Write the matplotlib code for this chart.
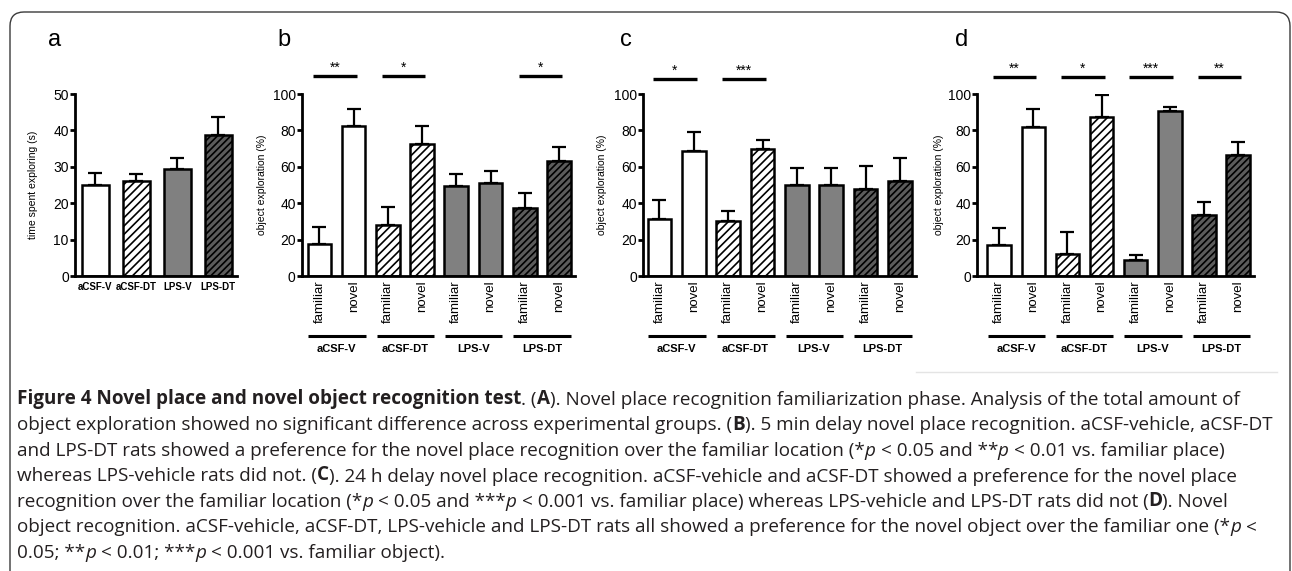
import numpy as np
import matplotlib
matplotlib.use("Agg")
import matplotlib.pyplot as plt
from matplotlib.patches import FancyBboxPatch
from matplotlib.lines import Line2D
from matplotlib.text import Annotation
from matplotlib.transforms import IdentityTransform

plt.rcParams['font.family'] = 'Liberation Sans'
plt.rcParams['hatch.linewidth'] = 1.2

W, H = 1292, 571

groups = ["aCSF-V", "aCSF-DT", "LPS-V", "LPS-DT"]
conditions = ["familiar", "novel"]

# a: familiarization, time spent exploring (s)
a_mean = [25.0, 26.1, 29.4, 38.6]
a_err = [3.3, 1.9, 2.9, 5.2]

# b: 5 min delay novel place (familiar, novel per group)
b_mean = [17.6, 82.4, 28.0, 72.5, 49.4, 51.1, 37.4, 63.2]
b_err = [9.4, 9.4, 9.9, 9.9, 6.6, 6.6, 8.2, 7.8]
b_sig = {0: "**", 1: "*", 3: "*"}

# c: 24 h delay novel place
c_mean = [31.3, 68.9, 30.4, 69.6, 50.2, 50.2, 47.8, 52.2]
c_err = [10.2, 10.2, 5.3, 5.4, 9.1, 9.1, 12.9, 12.6]
c_sig = {0: "*", 1: "***"}

# d: novel object
d_mean = [16.8, 82.0, 12.0, 87.6, 9.0, 90.4, 33.7, 66.3]
d_err = [9.8, 10.0, 12.0, 12.0, 2.7, 2.7, 7.2, 7.1]
d_sig = {0: "**", 1: "*", 2: "***", 3: "**"}

faces = ["white", "white", "#808080", "#5c5c5c"]
hatches = [None, "////", None, "/////"]

fig = plt.figure(figsize=(W / 100, H / 100), dpi=100)


def px_axes(l, t, r, b):
    return fig.add_axes([l / W, 1 - b / H, (r - l) / W, (b - t) / H])


def style_axis(ax, ymax, step, ylabel, lab_px):
    for s in ["top", "right"]:
        ax.spines[s].set_visible(False)
    for s in ["left", "bottom"]:
        ax.spines[s].set_linewidth(2.0)
    ax.set_ylim(0, ymax)
    ax.set_yticks(np.arange(0, ymax + 1, step))
    ax.tick_params(axis="y", direction="out", length=3.5, width=2, labelsize=10, pad=1)
    ax.set_ylabel(ylabel, fontsize=7.5)
    w = ax.get_position().width * W
    ax.yaxis.set_label_coords(-lab_px / w, 0.5)


def bars(ax, x, means, errs, gidx, width):
    for xi, m, e, g in zip(x, means, errs, gidx):
        ax.bar(xi, m, width=width, color=faces[g], edgecolor="black", linewidth=1.8,
               hatch=hatches[g], zorder=2)
    ax.errorbar(x, means, yerr=[np.zeros(len(errs)), errs], fmt="none", ecolor="black",
                elinewidth=1.6, capsize=4.7, capthick=1.6, zorder=1)


# panel a
ax = px_axes(75, 94, 237, 276)
xa = np.arange(4)
bars(ax, xa, a_mean, a_err, range(4), 0.66)
ax.set_xlim(-0.5, 3.46)
style_axis(ax, 50, 10, "time spent exploring (s)", 37)
ax.set_xticks(xa)
ax.set_xticklabels(groups, fontsize=7, fontweight="bold")
ax.tick_params(axis="x", length=0, pad=4)


def place_panel(l, r, xl, means, errs, sig, sig_y, lab_px):
    ax = px_axes(l, 94, r, 276)
    x = np.arange(8)
    bars(ax, x, means, errs, [i // 2 for i in range(8)], 0.69)
    ax.set_xlim(xl, 7.47)
    style_axis(ax, 100, 20, "object exploration (%)", lab_px)
    ax.set_xticks(x)
    ax.set_xticklabels(conditions * 4, rotation=90, fontsize=9.5)
    ax.tick_params(axis="x", length=0, pad=3)
    for g, s in sig.items():
        ax.plot([2 * g - 0.18, 2 * g + 1.09], [sig_y, sig_y], color="black", lw=2.4,
                clip_on=False, solid_capstyle="butt")
        ax.text(2 * g + 0.45, sig_y + 2.5, s, ha="center", va="baseline", fontsize=10)
    for g, name in enumerate(groups):
        ax.plot([2 * g - 0.33, 2 * g + 1.35], [-33, -33], color="black", lw=2.2,
                clip_on=False, solid_capstyle="butt")
        ax.text(2 * g + 0.5, -40, name, ha="center", va="center", fontsize=8,
                fontweight="bold")
    return ax


place_panel(302, 575, -0.51, b_mean, b_err, b_sig, 109.9, 35)
place_panel(643, 916, -0.48, c_mean, c_err, c_sig, 108.2, 36)
place_panel(977, 1254, -0.65, d_mean, d_err, d_sig, 109.3, 33)

for letter, xp in zip("abcd", [48, 277, 620, 955]):
    fig.text(xp / W, 1 - 40 / H, letter, fontsize=17, ha="left", va="center")

# frame and separator
fig.add_artist(FancyBboxPatch((10, -40), 1280, 599, boxstyle="round,pad=0,rounding_size=14",
                              transform=IdentityTransform(), fill=False,
                              edgecolor="#3a3a3a", lw=1.0))
fig.add_artist(Line2D([916 / W, 1277 / W], [1 - 372 / H] * 2, color="#e4e4e4", lw=1))

# caption
cap_lines = [
    [("Figure 4 Novel place and novel object recognition test", "b"), (". (", "r"), ("A", "b"),
     ("). Novel place recognition familiarization phase. Analysis of the total amount of", "r")],
    [("object exploration showed no significant difference across experimental groups. (", "r"),
     ("B", "b"), ("). 5 min delay novel place recognition. aCSF-vehicle, aCSF-DT", "r")],
    [("and LPS-DT rats showed a preference for the novel place recognition over the familiar location (*", "r"),
     ("p", "i"), (" < 0.05 and **", "r"), ("p", "i"), (" < 0.01 vs. familiar place)", "r")],
    [("whereas LPS-vehicle rats did not. (", "r"), ("C", "b"),
     ("). 24 h delay novel place recognition. aCSF-vehicle and aCSF-DT showed a preference for the novel place", "r")],
    [("recognition over the familiar location (*", "r"), ("p", "i"), (" < 0.05 and ***", "r"), ("p", "i"),
     (" < 0.001 vs. familiar place) whereas LPS-vehicle and LPS-DT rats did not (", "r"), ("D", "b"),
     ("). Novel", "r")],
    [("object recognition. aCSF-vehicle, aCSF-DT, LPS-vehicle and LPS-DT rats all showed a preference for the novel object over the familiar one (*", "r"),
     ("p", "i"), (" <", "r")],
    [("0.05; **", "r"), ("p", "i"), (" < 0.01; ***", "r"), ("p", "i"), (" < 0.001 vs. familiar object).", "r")],
]
cap_size = 13.55
for k, runs in enumerate(cap_lines):
    yb = 1 - (409 + 25.5 * k) / H
    prev = None
    for txt, st in runs:
        gap = 0
        if txt.startswith(" "):
            txt = txt[1:]
            gap = 0.26 * cap_size
        kw = dict(fontsize=cap_size, family="Open Sans", color="#231f20", ha="left", va="bottom",
                  fontweight="bold" if st == "b" else "normal",
                  fontstyle="italic" if st == "i" else "normal")
        if prev is None:
            prev = fig.text(17 / W, yb, txt, **kw)
        else:
            ann = Annotation(txt, xy=(1, 0), xycoords=prev, xytext=(gap, 0),
                             textcoords="offset points", **kw)
            fig.add_artist(ann)
            prev = ann

fig.savefig("out.png", dpi=100)
